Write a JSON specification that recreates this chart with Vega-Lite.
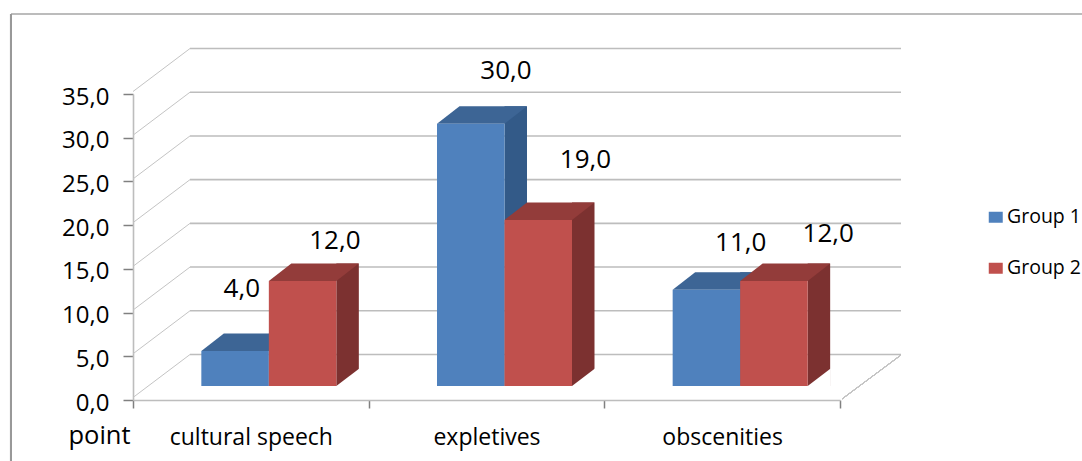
{
  "$schema": "https://vega.github.io/schema/vega-lite/v6.json",
  "width": 707,
  "height": 306,
  "autosize": {"type": "none"},
  "padding": {"left": 133, "top": 94, "right": 242, "bottom": 61},
  "background": "white",
  "config": {
    "view": {"stroke": null},
    "text": {"font": "Open Sans", "fontSize": 26, "color": "#000000"},
    "legend": {"labelFont": "Open Sans", "titleFont": "Open Sans"}
  },
  "layer": [
    {
      "data": {"values": [
        {"level": 0}, {"level": 5}, {"level": 10}, {"level": 15},
        {"level": 20}, {"level": 25}, {"level": 30}, {"level": 35}
      ]},
      "layer": [
        {
          "mark": {"type": "rule", "color": "#bdbdbd", "strokeWidth": 1.6, "xOffset": 57, "x2Offset": 61, "yOffset": -45.5},
          "encoding": {
            "x": {"datum": 0, "type": "quantitative", "scale": {"domain": [0, 3], "nice": false, "zero": false}, "axis": null},
            "x2": {"datum": 3},
            "y": {"field": "level", "type": "quantitative", "scale": {"domain": [0, 35]}, "axis": null}
          }
        },
        {
          "mark": {"type": "rule", "color": "#c4c4c4", "strokeWidth": 1, "yOffset": -2.5, "y2Offset": -45.5, "x2Offset": 57},
          "encoding": {
            "x": {"datum": 0, "type": "quantitative", "scale": {"domain": [0, 3], "nice": false, "zero": false}, "axis": null},
            "x2": {"datum": 0},
            "y": {"field": "level", "type": "quantitative", "scale": {"domain": [0, 35]}, "axis": null},
            "y2": {"field": "level"}
          }
        },
        {
          "description": "Floor edge running back from the last category tick",
          "mark": {"type": "rule", "color": "#c4c4c4", "strokeWidth": 1, "xOffset": 2, "x2Offset": 61, "yOffset": -1, "y2Offset": -45},
          "encoding": {
            "x": {"datum": 3, "type": "quantitative", "scale": {"domain": [0, 3], "nice": false, "zero": false}, "axis": null},
            "x2": {"datum": 3},
            "y": {"datum": 0, "type": "quantitative", "scale": {"domain": [0, 35]}, "axis": null},
            "y2": {"datum": 0}
          }
        },
        {
          "description": "Chart area border, top edge",
          "mark": {"type": "rule", "color": "#bcbcbc", "strokeWidth": 2},
          "encoding": {
            "x": {"datum": -0.5177, "type": "quantitative", "scale": {"domain": [0, 3], "nice": false, "zero": false}, "axis": null},
            "x2": {"datum": 4.027},
            "y": {"datum": 44.15, "type": "quantitative", "scale": {"domain": [0, 35]}, "axis": null}
          }
        },
        {
          "description": "Chart area border, left edge",
          "mark": {"type": "rule", "color": "#999999", "strokeWidth": 2},
          "encoding": {
            "x": {"datum": -0.5177, "type": "quantitative", "scale": {"domain": [0, 3], "nice": false, "zero": false}, "axis": null},
            "y": {"datum": 44.15, "type": "quantitative", "scale": {"domain": [0, 35]}, "axis": null},
            "y2": {"datum": -6.98}
          }
        }
      ],
      "resolve": {"axis": {"y": "independent"}}
    },
    {
      "data": {"values": [
        {"category": "cultural speech", "group": "Group 1", "value": 4},
        {"category": "cultural speech", "group": "Group 2", "value": 12},
        {"category": "expletives", "group": "Group 1", "value": 30},
        {"category": "expletives", "group": "Group 2", "value": 19},
        {"category": "obscenities", "group": "Group 1", "value": 11},
        {"category": "obscenities", "group": "Group 2", "value": 12}
      ]},
      "transform": [
        {"calculate": "replace(format(datum.value, '.1f'), '.', ',')", "as": "label"}
      ],
      "encoding": {
        "x": {
          "field": "category",
          "type": "nominal",
          "scale": {"domain": ["cultural speech", "expletives", "obscenities"], "paddingInner": 0, "paddingOuter": 0},
          "axis": {
            "title": null,
            "labelAngle": 0,
            "labelFont": "Open Sans",
            "labelFontSize": 23,
            "labelColor": "#000000",
            "labelPadding": 18,
            "tickBand": "extent",
            "tickColor": "#808080",
            "tickSize": 8,
            "tickWidth": 1.5,
            "domainColor": "#bdbdbd",
            "domainWidth": 1.6,
            "grid": false
          }
        },
        "y": {"field": "value", "type": "quantitative", "scale": {"domain": [0, 35]}, "axis": null}
      },
      "layer": [
        {
          "description": "Right-hand face of the Group 1 columns; also carries the value axis",
          "transform": [{"filter": "datum.group === 'Group 1'"}],
          "mark": {"type": "bar", "color": "#335a88", "width": 22.5, "xOffset": 29.25, "yOffset": -31.5, "y2Offset": -14},
          "encoding": {
            "y": {
              "field": "value",
              "type": "quantitative",
              "scale": {"domain": [0, 35]},
              "axis": {
                "title": "point",
                "titleAngle": 0,
                "titleAlign": "center",
                "titleBaseline": "middle",
                "titleX": -34,
                "titleY": 341,
                "titleFont": "Open Sans",
                "titleFontSize": 25.5,
                "titleFontWeight": "normal",
                "titleColor": "#000000",
                "values": [0, 5, 10, 15, 20, 25, 30, 35],
                "labelExpr": "replace(format(datum.value, '.1f'), '.', ',')",
                "labelFont": "Open Sans",
                "labelFontSize": 24,
                "labelColor": "#000000",
                "labelPadding": 14,
                "labelOffset": 3,
                "tickColor": "#808080",
                "tickSize": 10,
                "tickWidth": 1.5,
                "domainColor": "#bdbdbd",
                "domainWidth": 1.6,
                "grid": false
              }
            },
            "y2": {"datum": 0}
          }
        },
        {
          "description": "Right-hand face of the Group 2 columns",
          "transform": [{"filter": "datum.group === 'Group 2'"}],
          "mark": {"type": "bar", "color": "#7c3130", "width": 22.5, "xOffset": 96.75, "yOffset": -31.5, "y2Offset": -14},
          "encoding": {"y2": {"datum": 0}}
        },
        {
          "description": "Clears the corner under each right-hand face so its base slopes back",
          "mark": {"type": "point", "filled": true, "opacity": 1, "size": 4, "strokeWidth": 0, "color": "white", "shape": "M51.75 -14 L74.75 -31.5 L74.75 -13.5 Z"},
          "encoding": {
            "xOffset": {"field": "group", "type": "nominal", "scale": {"type": "band", "domain": ["Group 1", "Group 2"], "paddingInner": 0, "paddingOuter": 0.746}},
            "y": {"datum": 0, "type": "quantitative", "scale": {"domain": [0, 35]}, "axis": null}
          }
        },
        {
          "description": "Top faces of the columns",
          "mark": {"type": "point", "filled": true, "opacity": 1, "size": 4, "strokeWidth": 0, "shape": "M-15.75 -14 L51.75 -14 L74.25 -31.5 L6.75 -31.5 Z"},
          "encoding": {
            "xOffset": {"field": "group", "type": "nominal", "scale": {"type": "band", "domain": ["Group 1", "Group 2"], "paddingInner": 0, "paddingOuter": 0.746}},
            "color": {"condition": {"test": "datum.group === 'Group 1'", "value": "#3d6595"}, "value": "#933c3a"}
          }
        },
        {
          "description": "Front faces of the Group 1 columns",
          "transform": [{"filter": "datum.group === 'Group 1'"}],
          "mark": {"type": "bar", "width": 67.5, "xOffset": -15.75, "yOffset": -14, "y2Offset": -14},
          "encoding": {
            "y2": {"datum": 0},
            "color": {
              "field": "group",
              "type": "nominal",
              "scale": {"domain": ["Group 1", "Group 2"], "range": ["#4f81bd", "#c0504d"]},
              "legend": {
                "title": null,
                "orient": "none",
                "legendX": 853,
                "legendY": 113.5,
                "symbolType": "M-7 -5.5H7V5.5H-7Z",
                "symbolSize": 4,
                "labelFontSize": 19.5,
                "labelColor": "#000000",
                "labelOffset": 1.5,
                "rowPadding": 30,
                "symbolStrokeWidth": 0
              }
            }
          }
        },
        {
          "description": "Front faces of the Group 2 columns",
          "transform": [{"filter": "datum.group === 'Group 2'"}],
          "mark": {"type": "bar", "width": 67.5, "xOffset": 51.75, "yOffset": -14, "y2Offset": -14},
          "encoding": {
            "y2": {"datum": 0},
            "color": {
              "field": "group",
              "type": "nominal",
              "scale": {"domain": ["Group 1", "Group 2"], "range": ["#4f81bd", "#c0504d"]},
              "legend": null
            }
          }
        },
        {
          "transform": [{"filter": "datum.category === 'cultural speech' && datum.group === 'Group 1'"}],
          "mark": {"type": "text", "dx": -9, "dy": -76},
          "encoding": {"text": {"field": "label"}}
        },
        {
          "transform": [{"filter": "datum.category === 'cultural speech' && datum.group === 'Group 2'"}],
          "mark": {"type": "text", "dx": 84, "dy": -54},
          "encoding": {"text": {"field": "label"}}
        },
        {
          "transform": [{"filter": "datum.category === 'expletives' && datum.group === 'Group 1'"}],
          "mark": {"type": "text", "dx": 19.5, "dy": -66.7},
          "encoding": {"text": {"field": "label"}}
        },
        {
          "transform": [{"filter": "datum.category === 'expletives' && datum.group === 'Group 2'"}],
          "mark": {"type": "text", "dx": 99, "dy": -74},
          "encoding": {"text": {"field": "label"}}
        },
        {
          "transform": [{"filter": "datum.category === 'obscenities' && datum.group === 'Group 1'"}],
          "mark": {"type": "text", "dx": 18.5, "dy": -61},
          "encoding": {"text": {"field": "label"}}
        },
        {
          "transform": [{"filter": "datum.category === 'obscenities' && datum.group === 'Group 2'"}],
          "mark": {"type": "text", "dx": 106, "dy": -61},
          "encoding": {"text": {"field": "label"}}
        }
      ],
      "resolve": {"axis": {"y": "independent"}}
    }
  ],
  "resolve": {"scale": {"x": "independent"}, "axis": {"y": "independent"}}
}
